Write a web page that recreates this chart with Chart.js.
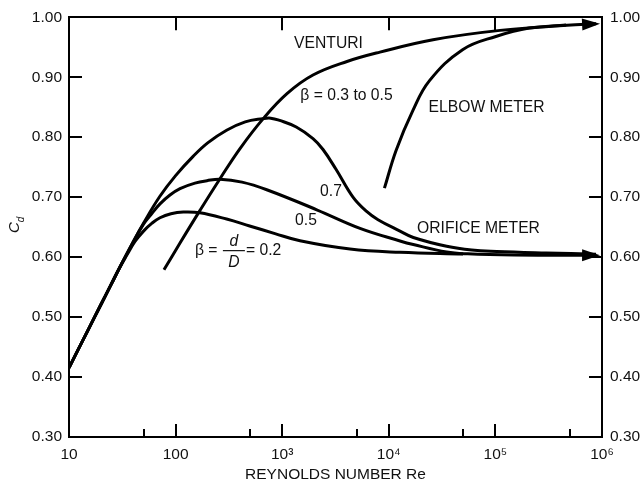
<!DOCTYPE html>
<html>
<head>
<meta charset="utf-8">
<script src="https://cdn.jsdelivr.net/npm/chart.js@4"></script>
<style>
  html, body { margin: 0; padding: 0; background: #fff; }
</style>
</head>
<body>
<canvas id="chart" width="641" height="488"></canvas>
<script>
// curves (Re, Cd)
const venturiRe = [77.8, 110, 169.4, 261, 402, 661, 1109, 1945, 4055, 8260, 26000, 110400, 470000, 880000];
const venturiCd = [0.5788, 0.6236, 0.678, 0.7308, 0.7811, 0.8306, 0.8727, 0.9037, 0.9263, 0.9419, 0.9626, 0.9782, 0.9868, 0.9891];

const elbowRe = [9100, 11700, 16760, 24000, 49200, 101000, 207600, 460000];
const elbowCd = [0.715, 0.778, 0.844, 0.894, 0.946, 0.968, 0.982, 0.987];

const orifice07Re = [10, 15, 20, 25, 30, 40, 50, 71, 100, 146, 200, 301, 450, 655, 780, 946, 1355, 1945, 2415, 3197, 4613, 6110, 7925, 12740, 16980, 34900, 60000, 102800, 300000, 880000];
const orifice07Cd = [0.4155, 0.4775, 0.5214, 0.5553, 0.5832, 0.6253, 0.6566, 0.7011, 0.736, 0.768, 0.7905, 0.8116, 0.8256, 0.8309, 0.8318, 0.828, 0.817, 0.7976, 0.7795, 0.7465, 0.700, 0.677, 0.6624, 0.6434, 0.6327, 0.618, 0.6118, 0.6095, 0.607, 0.605];

const orifice05Re = [10, 15, 20, 25, 30, 40, 50, 60.1, 71.4, 88.6, 110, 152, 197, 261, 420, 716, 2108, 5370, 12740, 16980, 34900, 55000, 150000, 880000];
const orifice05Cd = [0.4155, 0.4775, 0.5214, 0.5553, 0.5832, 0.6253, 0.655, 0.6731, 0.6888, 0.7036, 0.7143, 0.7234, 0.7275, 0.730, 0.7251, 0.7124, 0.679, 0.648, 0.627, 0.621, 0.6085, 0.6055, 0.6035, 0.603];

const orifice02Re = [10, 15, 20, 25, 30, 35, 41.6, 50, 60.1, 71.4, 90.5, 118, 169, 301, 495, 855, 1469, 4325, 12740, 49700];
const orifice02Cd = [0.4155, 0.4775, 0.5214, 0.5553, 0.5832, 0.6038, 0.6261, 0.6434, 0.6566, 0.6657, 0.6723, 0.6751, 0.6739, 0.6635, 0.652, 0.6393, 0.6273, 0.6134, 0.608, 0.6052];

// axes
const xLabelValues = [10, 100, 1000, 10000, 100000, 1000000];
const xLabels = ['10', '100', '10\u00B3', '10\u2074', '10\u2075', '10\u2076'];
const xMajorTicks = [100, 1000, 10000, 100000];
const xMinorTicks = [50, 500, 5000, 50000, 500000];
const yTickValues = [0.4, 0.5, 0.6, 0.7, 0.8, 0.9];

const FONT = "'Liberation Sans', Arial, Helvetica, sans-serif";
const INK = '#111';

function pts(xs, ys) {
    return xs.map((v, i) => ({ x: v, y: ys[i] }));
}

function curve(xs, ys, arrow) {
    return {
        data: pts(xs, ys),
        showLine: true,
        borderColor: '#000',
        borderWidth: 3,
        pointRadius: 0,
        fill: false,
        tension: 0.4,
        borderCapStyle: 'butt',
        borderJoinStyle: 'round',
        arrow: arrow
    };
}

// inward tick marks, like the printed figure
const innerTicks = {
    id: 'innerTicks',
    afterDraw(chart) {
        const { ctx, chartArea: a, scales: { x, y } } = chart;
        ctx.save();
        ctx.strokeStyle = '#000';
        ctx.lineWidth = 2;
        ctx.beginPath();
        xMajorTicks.forEach(v => {
            const p = Math.round(x.getPixelForValue(v));
            ctx.moveTo(p, a.bottom); ctx.lineTo(p, a.bottom - 13);
            ctx.moveTo(p, a.top); ctx.lineTo(p, a.top + 13);
        });
        xMinorTicks.forEach(v => {
            const p = Math.round(x.getPixelForValue(v));
            ctx.moveTo(p, a.bottom); ctx.lineTo(p, a.bottom - 8);
        });
        yTickValues.forEach(v => {
            const p = Math.round(y.getPixelForValue(v));
            ctx.moveTo(a.left, p); ctx.lineTo(a.left + 13, p);
            ctx.moveTo(a.right, p); ctx.lineTo(a.right - 13, p);
        });
        ctx.stroke();
        ctx.restore();
    }
};

// filled arrow heads at the end of flagged curves
const arrowHeads = {
    id: 'arrowHeads',
    afterDatasetsDraw(chart) {
        const ctx = chart.ctx;
        chart.data.datasets.forEach((ds, i) => {
            if (!ds.arrow) return;
            const el = chart.getDatasetMeta(i).data;
            const a = el[el.length - 2], b = el[el.length - 1];
            const ang = Math.atan2(b.y - a.y, b.x - a.x);
            ctx.save();
            ctx.translate(b.x + 4 * Math.cos(ang), b.y + 4 * Math.sin(ang));
            ctx.rotate(ang);
            ctx.beginPath();
            ctx.moveTo(0, 0);
            ctx.lineTo(-18, -6);
            ctx.lineTo(-18, 6);
            ctx.closePath();
            ctx.fillStyle = '#000';
            ctx.fill();
            ctx.restore();
        });
    }
};

// curve names, placed in data coordinates
const notes = [
    { text: 'VENTURI', re: 2718, cd: 0.956 },
    { text: '\u03B2 = 0.3 to 0.5', re: 4010, cd: 0.870 },
    { text: 'ELBOW METER', re: 82600, cd: 0.849 },
    { text: '0.7', re: 2870, cd: 0.709 },
    { text: '0.5', re: 1672, cd: 0.661 },
    { text: 'ORIFICE METER', re: 69400, cd: 0.6475 }
];

const annotate = {
    id: 'annotate',
    afterDraw(chart) {
        const { ctx, scales: { x, y } } = chart;
        ctx.save();
        ctx.fillStyle = INK;
        ctx.font = '15.7px ' + FONT;
        ctx.textAlign = 'center';
        ctx.textBaseline = 'middle';
        notes.forEach(n => ctx.fillText(n.text, x.getPixelForValue(n.re), y.getPixelForValue(n.cd)));

        // beta = d/D = 0.2
        const bx = x.getPixelForValue(152), by = y.getPixelForValue(0.611);
        ctx.textAlign = 'left';
        ctx.fillText('\u03B2 = ', bx, by);
        const w = ctx.measureText('\u03B2 = ').width;
        const fx = bx + w + 1;
        ctx.fillText('= 0.2', fx + 23, by);
        ctx.fillRect(fx, by - 0.5, 22, 1.2);
        ctx.font = 'italic 15.7px ' + FONT;
        ctx.textAlign = 'center';
        ctx.fillText('d', fx + 11, by - 9);
        ctx.fillText('D', fx + 11, by + 12);

        // y title C_d
        ctx.translate(19, 233);
        ctx.rotate(-Math.PI / 2);
        ctx.textAlign = 'left';
        ctx.textBaseline = 'alphabetic';
        ctx.font = 'italic 15px ' + FONT;
        ctx.fillText('C', 0, 0);
        const cw = ctx.measureText('C').width;
        ctx.font = 'italic 10px ' + FONT;
        ctx.fillText('d', cw, 5);
        ctx.restore();
    }
};

const tickFont = { family: FONT, size: 15.5 };
const frame = { display: true, color: '#000', width: 2 };

function yScale(position, width, pad) {
    return {
        position: position,
        min: 0.3,
        max: 1.0,
        afterFit: s => { s.width = width; },
        grid: { display: false, drawTicks: false },
        border: frame,
        ticks: {
            stepSize: 0.1,
            padding: pad,
            color: INK,
            font: tickFont,
            callback: v => v.toFixed(2)
        }
    };
}

new Chart(document.getElementById('chart'), {
    type: 'scatter',
    data: {
        datasets: [
            curve(orifice02Re, orifice02Cd, false),
            curve(orifice07Re, orifice07Cd, false),
            curve(orifice05Re, orifice05Cd, true),
            curve(elbowRe, elbowCd, false),
            curve(venturiRe, venturiCd, true)
        ]
    },
    options: {
        responsive: false,
        animation: false,
        layout: { padding: 0 },
        plugins: {
            legend: { display: false },
            tooltip: { enabled: false }
        },
        scales: {
            x: {
                type: 'logarithmic',
                position: 'bottom',
                min: 10,
                max: 1000000,
                afterBuildTicks: s => { s.ticks = xLabelValues.map(v => ({ value: v })); },
                afterFit: s => { s.height = 51; },
                grid: { display: false, drawTicks: false },
                border: frame,
                ticks: {
                    autoSkip: false,
                    maxRotation: 0,
                    padding: 8,
                    color: INK,
                    font: tickFont,
                    callback: v => xLabels[xLabelValues.indexOf(v)]
                },
                title: {
                    display: true,
                    text: 'REYNOLDS NUMBER Re',
                    color: INK,
                    font: tickFont,
                    padding: { top: 0, bottom: 4 }
                }
            },
            x2: {
                type: 'logarithmic',
                position: 'top',
                min: 10,
                max: 1000000,
                afterFit: s => { s.height = 12; },
                grid: { display: false, drawTicks: false },
                border: frame,
                ticks: { display: false }
            },
            y: yScale('left', 69, 7),
            y2: yScale('right', 39, 8)
        }
    },
    plugins: [arrowHeads, innerTicks, annotate]
});
</script>
</body>
</html>
